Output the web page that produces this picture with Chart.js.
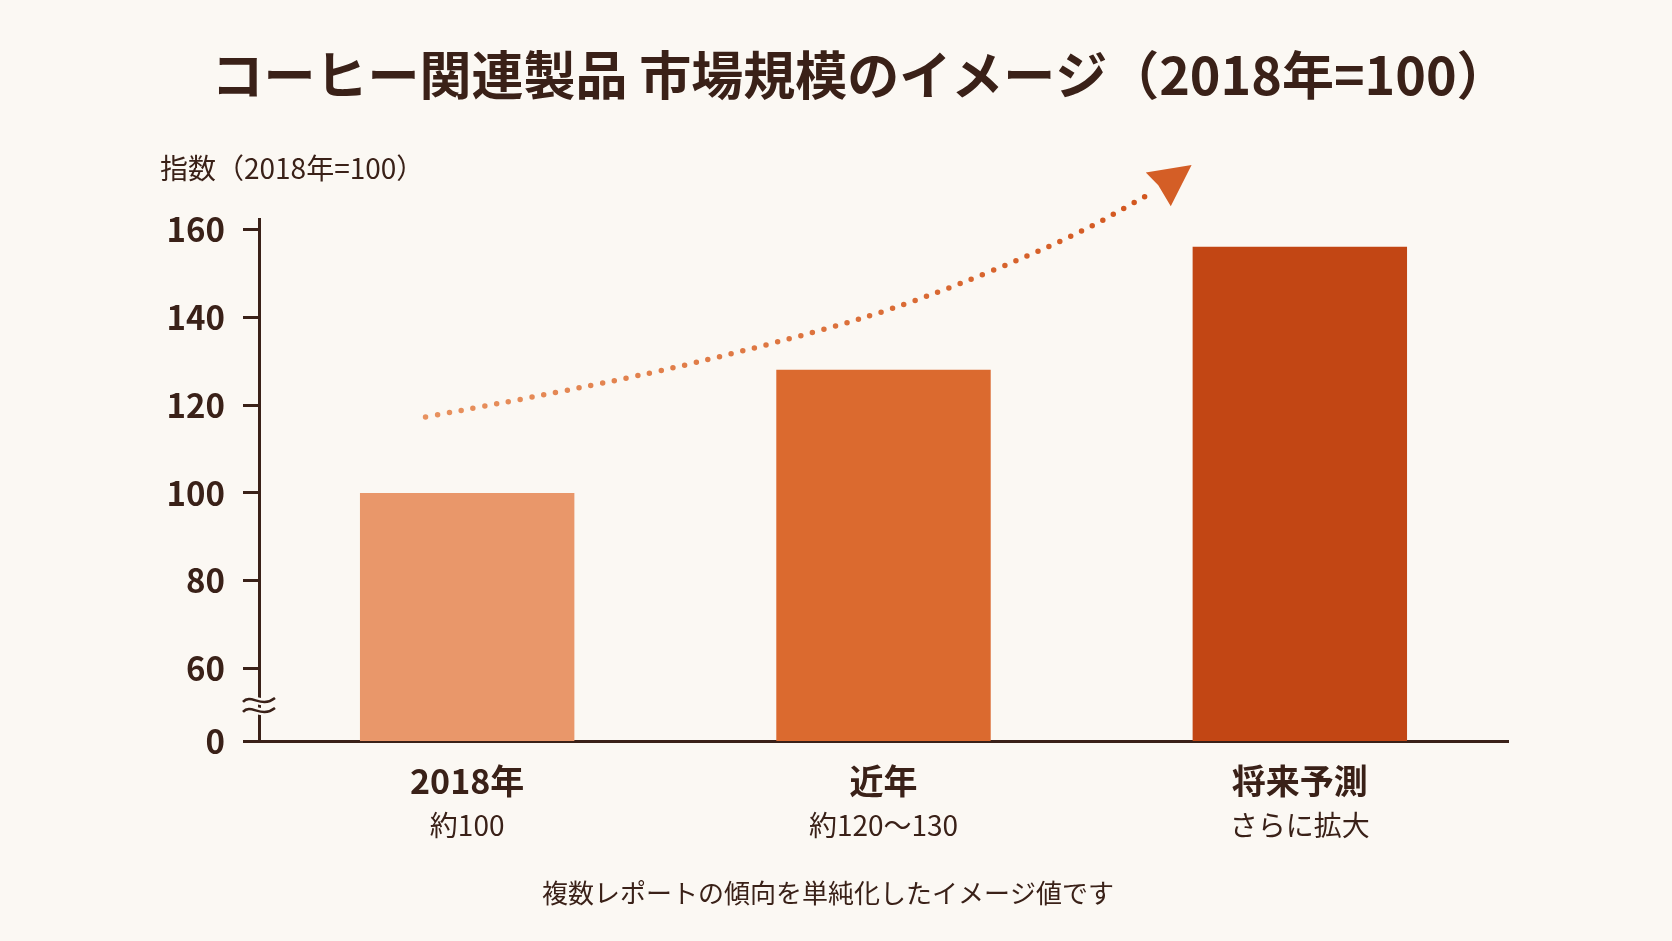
<!DOCTYPE html>
<html lang="ja">
<head>
<meta charset="utf-8">
<script src="https://cdn.jsdelivr.net/npm/chart.js@4"></script>
<style>
  html, body { margin: 0; padding: 0; background: #FBF8F3; }
  #wrap { width: 1672px; height: 941px; }
</style>
</head>
<body>
<div id="wrap"><canvas id="myChart" width="1672" height="941"></canvas></div>
<script>
// data
const categories = ['2018年', '近年', '将来予測'];
const subLabels = ['約100', '約120〜130', 'さらに拡大'];
const values = [100, 128, 156];
const barColors = ['#E9976A', '#DB6A2F', '#C24614'];
const yTickValues = [60, 80, 100, 120, 140, 160];
// axis is broken between 0 and 60: the bottom of the axis stands for 0
const Y_MIN = 43.6;
const Y_MAX = 162.3;
// trend arrow, in data units (x = category index, y = index value)
const arrowPath = [
    { x: -0.10, y: 117.3 },
    { x: 0.34, y: 124.8 },
    { x: 0.80, y: 135.5 },
    { x: 1.08, y: 143.5 },
    { x: 1.45, y: 157.9 },
    { x: 1.65, y: 168.6 }
];
const arrowHead = [
    { x: 1.74, y: 174.6 },
    { x: 1.63, y: 172.9 },
    { x: 1.66, y: 170.0 },
    { x: 1.69, y: 165.2 }
];

const TEXT = '#3A2118';
const FONT = "'Noto Sans CJK JP', 'Noto Sans', sans-serif";
const TITLE = 'コーヒー関連製品 市場規模のイメージ（2018年=100）';

const extras = {
    id: 'extras',
    afterDraw(chart) {
        const ctx = chart.ctx;
        const xs = chart.scales.x;
        const ys = chart.scales.y;
        const area = chart.chartArea;
        ctx.save();

        // main title
        ctx.fillStyle = TEXT;
        ctx.font = 'bold 52px ' + FONT;
        ctx.textAlign = 'center';
        ctx.textBaseline = 'middle';
        ctx.fillText(TITLE, 860, 75);

        // y axis title
        ctx.font = '28px ' + FONT;
        ctx.textAlign = 'left';
        ctx.fillText('指数（2018年=100）', area.left - 99, area.top - 51);

        // second line of the category labels
        ctx.font = '28px ' + FONT;
        ctx.textAlign = 'center';
        subLabels.forEach((s, i) => {
            ctx.fillText(s, xs.getPixelForTick(i), area.bottom + 84);
        });

        // footnote
        ctx.font = '26px ' + FONT;
        ctx.fillText('複数レポートの傾向を単純化したイメージ値です', chart.width / 2 - 8, area.bottom + 152);

        // axis break mark
        const p60 = ys.getPixelForValue(60);
        const mid = (p60 + area.bottom) / 2;
        const x0 = area.left;
        [mid - 5, mid + 5].forEach((wy) => {
            ctx.beginPath();
            ctx.moveTo(x0 - 16, wy + 2);
            ctx.bezierCurveTo(x0 - 8, wy - 7, x0 + 2, wy + 9, x0 + 16, wy - 2);
            ctx.strokeStyle = '#FBF8F3';
            ctx.lineWidth = 7;
            ctx.stroke();
            ctx.strokeStyle = TEXT;
            ctx.lineWidth = 2.5;
            ctx.stroke();
        });

        // dotted trend arrow
        const pts = arrowPath.map(p => ({ x: xs.getPixelForValue(p.x), y: ys.getPixelForValue(p.y) }));
        const grad = ctx.createLinearGradient(pts[0].x, pts[0].y, pts[pts.length - 1].x, pts[pts.length - 1].y);
        grad.addColorStop(0, '#E8925F');
        grad.addColorStop(1, '#D2561E');
        ctx.beginPath();
        ctx.moveTo(pts[0].x, pts[0].y);
        for (let i = 1; i < pts.length - 1; i++) {
            const mx = (pts[i].x + pts[i + 1].x) / 2;
            const my = (pts[i].y + pts[i + 1].y) / 2;
            ctx.quadraticCurveTo(pts[i].x, pts[i].y, mx, my);
        }
        ctx.lineTo(pts[pts.length - 1].x, pts[pts.length - 1].y);
        ctx.setLineDash([0, 12]);
        ctx.lineCap = 'round';
        ctx.lineWidth = 5.5;
        ctx.strokeStyle = grad;
        ctx.stroke();
        ctx.setLineDash([]);

        const head = arrowHead.map(p => ({ x: xs.getPixelForValue(p.x), y: ys.getPixelForValue(p.y) }));
        ctx.beginPath();
        ctx.moveTo(head[0].x, head[0].y);
        for (let i = 1; i < head.length; i++) ctx.lineTo(head[i].x, head[i].y);
        ctx.closePath();
        ctx.fillStyle = '#D45E26';
        ctx.fill();

        ctx.restore();
    }
};

const ctx = document.getElementById('myChart').getContext('2d');
const myChart = new Chart(ctx, {
    type: 'bar',
    data: {
        labels: categories,
        datasets: [{
            data: values,
            backgroundColor: barColors,
            borderWidth: 0,
            categoryPercentage: 1,
            barPercentage: 0.515
        }]
    },
    options: {
        responsive: false,
        animation: false,
        layout: { padding: { left: 0, right: 164, top: 219, bottom: 0 } },
        plugins: {
            legend: { display: false },
            tooltip: { enabled: false },
            title: { display: false }
        },
        scales: {
            x: {
                grid: { display: false, drawTicks: false },
                border: { display: true, color: TEXT, width: 3 },
                ticks: {
                    color: TEXT,
                    padding: 20,
                    font: { family: FONT, size: 34, weight: 'bold' }
                },
                afterFit(scale) { scale.height = 200; }
            },
            y: {
                min: Y_MIN,
                max: Y_MAX,
                afterBuildTicks(scale) {
                    scale.ticks = [Y_MIN].concat(yTickValues).map(v => ({ value: v }));
                },
                afterFit(scale) { scale.width = 259; },
                grid: {
                    drawOnChartArea: false,
                    drawTicks: true,
                    tickLength: 16,
                    color: TEXT,
                    lineWidth: 3
                },
                border: { display: true, color: TEXT, width: 3 },
                ticks: {
                    color: TEXT,
                    padding: 18,
                    font: { family: FONT, size: 33, weight: 'bold' },
                    callback: (v) => (v === Y_MIN ? '0' : v)
                }
            }
        }
    },
    plugins: [extras]
});
</script>
</body>
</html>
